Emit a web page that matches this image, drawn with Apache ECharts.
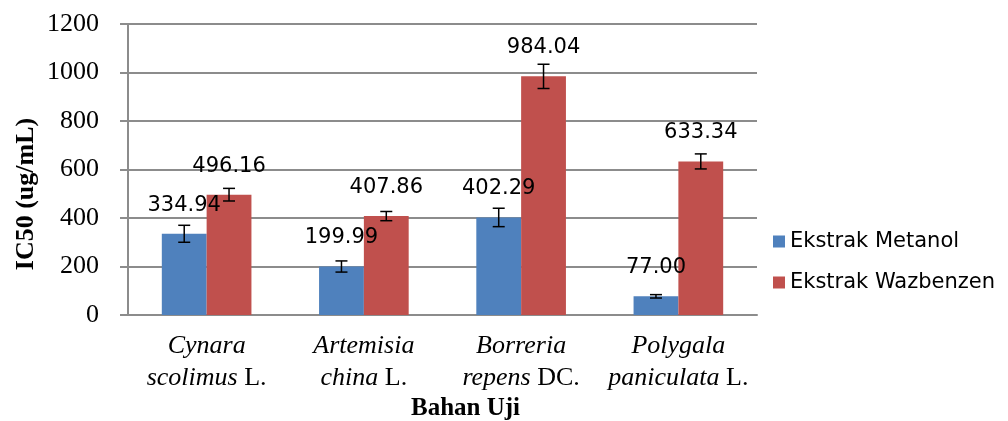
<!DOCTYPE html>
<html>
<head>
<meta charset="utf-8">
<script src="https://cdn.jsdelivr.net/npm/echarts@6/dist/echarts.min.js"></script>
<style>
  html, body { margin: 0; padding: 0; background: #fff; }
  #chart { width: 1008px; height: 421px; }
</style>
</head>
<body>
<div id="chart"></div>
<script>
const genus = ['Cynara', 'Artemisia', 'Borreria', 'Polygala'];
const epithet = ['scolimus', 'china', 'repens', 'paniculata'];
const authority = ['L.', 'L.', 'DC.', 'L.'];
const seriesNames = ['Ekstrak Metanol', 'Ekstrak Wazbenzen'];
const metanol = [334.94, 199.99, 402.29, 77.0];
const wazbenzen = [496.16, 407.86, 984.04, 633.34];
const metanolErr = [35, 23, 38, 7];
const wazbenzenErr = [26, 19, 50, 31];
const yTicks = [0, 200, 400, 600, 800, 1000, 1200];

const colors = ['#4F81BD', '#C0504D'];
const categoryGap = 0.43;

const errorSeries = (values, errs, side) => ({
  type: 'custom',
  z: 5,
  silent: true,
  data: values.map((v, i) => [i, v, errs[i]]),
  renderItem: (params, api) => {
    const catWidth = api.size([1, 0])[0];
    const barWidth = (catWidth * (1 - categoryGap)) / 2;
    const center = api.coord([api.value(0), api.value(1)]);
    const x = center[0] + side * barWidth / 2;
    const yHi = api.coord([api.value(0), api.value(1) + api.value(2)])[1];
    const yLo = api.coord([api.value(0), api.value(1) - api.value(2)])[1];
    const cap = 6;
    const style = { stroke: '#000', lineWidth: 1.5 };
    return {
      type: 'group',
      children: [
        { type: 'line', shape: { x1: x, y1: yHi, x2: x, y2: yLo }, style },
        { type: 'line', shape: { x1: x - cap, y1: yHi, x2: x + cap, y2: yHi }, style },
        { type: 'line', shape: { x1: x - cap, y1: yLo, x2: x + cap, y2: yLo }, style },
      ],
    };
  },
});

const valueLabel = {
  show: true, position: 'top', distance: 18,
  fontFamily: 'DejaVu Sans', fontSize: 21, color: '#000',
  formatter: (p) => p.value.toFixed(2),
};

const chart = echarts.init(document.getElementById('chart'));

const option = {
  animation: false,
  backgroundColor: '#fff',
  grid: { left: 128, right: 251, top: 24, bottom: 106, outerBoundsMode: 'none' },
  legend: {
    orient: 'vertical',
    left: 768,
    top: 226,
    itemWidth: 12,
    itemHeight: 12,
    itemGap: 20,
    icon: 'rect',
    data: seriesNames,
    textStyle: { fontFamily: 'DejaVu Sans', fontSize: 21, color: '#000' },
  },
  xAxis: {
    type: 'category',
    data: genus,
    name: 'Bahan Uji',
    nameLocation: 'middle',
    nameGap: 77,
    nameTextStyle: {
      fontFamily: 'Liberation Serif', fontWeight: 'bold', fontSize: 25, color: '#000',
      padding: [0, 0, 0, 46],
    },
    axisLine: { lineStyle: { color: '#8c8c8c', width: 2 } },
    axisTick: { show: false },
    axisLabel: {
      margin: 15,
      interval: 0,
      formatter: (value, idx) => `{i|${genus[idx]}}\n{i|${epithet[idx]}}{n| ${authority[idx]}}`,
      rich: {
        i: { fontFamily: 'Liberation Serif', fontStyle: 'italic', fontSize: 26, color: '#000', lineHeight: 32 },
        n: { fontFamily: 'Liberation Serif', fontSize: 26, color: '#000', lineHeight: 32 },
      },
    },
  },
  yAxis: {
    type: 'value',
    min: yTicks[0],
    max: yTicks[yTicks.length - 1],
    interval: 200,
    axisLine: { show: true, lineStyle: { color: '#8c8c8c', width: 2 } },
    axisTick: { show: true, length: 8, lineStyle: { color: '#8c8c8c', width: 2 } },
    axisLabel: {
      fontFamily: 'Liberation Serif', fontSize: 26, color: '#000', margin: 29,
      formatter: (v) => String(v),
    },
    splitLine: { lineStyle: { color: '#8c8c8c', width: 2 } },
  },
  graphic: [
    {
      type: 'text',
      x: 26,
      y: 194,
      rotation: Math.PI / 2,
      style: {
        text: 'IC50 (ug/mL)',
        fontFamily: 'Liberation Serif',
        fontWeight: 'bold',
        fontSize: 26,
        fill: '#000',
        align: 'center',
        verticalAlign: 'middle',
      },
    },
  ],
  series: [
    {
      name: seriesNames[0],
      type: 'bar',
      data: metanol,
      barGap: 0,
      barCategoryGap: '43%',
      itemStyle: { color: colors[0] },
      label: valueLabel,
    },
    {
      name: seriesNames[1],
      type: 'bar',
      data: wazbenzen,
      barGap: 0,
      barCategoryGap: '43%',
      itemStyle: { color: colors[1] },
      label: valueLabel,
    },
    errorSeries(metanol, metanolErr, -1),
    errorSeries(wazbenzen, wazbenzenErr, 1),
  ],
};

chart.setOption(option);
</script>
</body>
</html>
